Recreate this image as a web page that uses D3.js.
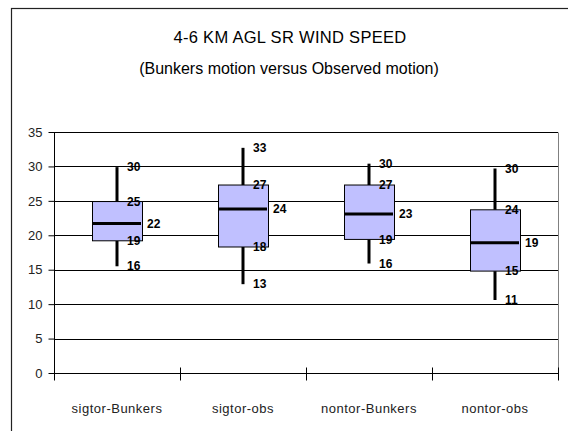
<!DOCTYPE html>
<html>
<head>
<meta charset="utf-8">
<script src="https://cdn.jsdelivr.net/npm/d3@7"></script>
<style>
  html, body { margin: 0; padding: 0; background: #fff; }
  svg { display: block; }
  text { font-family: "Liberation Sans", Arial, sans-serif; }
</style>
</head>
<body>
<svg id="chart" width="568" height="431"></svg>
<script>
// ---- data ----
const categories = ["sigtor-Bunkers", "sigtor-obs", "nontor-Bunkers", "nontor-obs"];
const maxValues    = [29.9, 32.7, 30.4, 29.7];
const q3Values     = [24.9, 27.3, 27.3, 23.7];
const medianValues = [21.7, 23.8, 23.1, 18.9];
const q1Values     = [19.2, 18.3, 19.4, 14.8];
const minValues    = [15.5, 12.9, 15.9, 10.6];
const yTicks = [0, 5, 10, 15, 20, 25, 30, 35];
const titleLines = ["4-6 KM AGL SR WIND SPEED", "(Bunkers motion versus Observed motion)"];

const svg = d3.select("#chart");

// outer chart frame (extends past the picture on right and bottom)
svg.append("rect")
  .attr("x", 11.5).attr("y", 8.5)
  .attr("width", 600).attr("height", 500)
  .attr("fill", "#fff").attr("stroke", "#222").attr("stroke-width", 1.2);

// titles
svg.append("text").attr("x", 290).attr("y", 43)
  .attr("text-anchor", "middle").attr("font-size", 16.5).attr("letter-spacing", 0.3).attr("fill", "#000")
  .text(titleLines[0]);
svg.append("text").attr("x", 289).attr("y", 74)
  .attr("text-anchor", "middle").attr("font-size", 16).attr("fill", "#000")
  .text(titleLines[1]);

// scales
const x = d3.scaleBand().domain(categories).range([54, 558]).paddingInner(0).paddingOuter(0);
const y = d3.scaleLinear().domain([0, 35]).range([373, 132]);

// gridlines
svg.append("g").selectAll("line")
  .data(yTicks.filter(d => d > 0))
  .join("line")
  .attr("x1", 54).attr("x2", 558)
  .attr("y1", d => Math.round(y(d)) + 0.5).attr("y2", d => Math.round(y(d)) + 0.5)
  .attr("stroke", "#000").attr("stroke-width", 1);

// plot area right border
svg.append("line")
  .attr("x1", 558.5).attr("x2", 558.5)
  .attr("y1", Math.round(y(35)) + 0.5).attr("y2", Math.round(y(0)) + 0.5)
  .attr("stroke", "#808080");

// y axis
const yAxis = d3.axisLeft(y).tickValues(yTicks).tickSize(6).tickPadding(6);
const gy = svg.append("g").attr("transform", "translate(54.5,0)").call(yAxis);
gy.select(".domain").attr("stroke", "#000").attr("d", `M0,${y(35)}V${y(0)}`);
gy.selectAll(".tick line").attr("stroke", "#000");
gy.selectAll(".tick text").attr("font-size", 13).attr("fill", "#222")
  .attr("font-family", "'Liberation Sans', Arial, sans-serif");

// x axis with ticks at category boundaries
const xAxisY = Math.round(y(0)) + 0.5;
svg.append("line").attr("x1", 54).attr("x2", 559).attr("y1", xAxisY).attr("y2", xAxisY)
  .attr("stroke", "#000");
const boundaries = categories.map(c => x(c)).concat([x(categories[categories.length - 1]) + x.bandwidth()]);
svg.append("g").selectAll("line").data(boundaries).join("line")
  .attr("x1", d => Math.round(d) + 0.5).attr("x2", d => Math.round(d) + 0.5)
  .attr("y1", xAxisY - 6).attr("y2", xAxisY + 7)
  .attr("stroke", "#000");
svg.append("g").selectAll("text").data(categories).join("text")
  .attr("x", d => x(d) + x.bandwidth() / 2)
  .attr("y", 413)
  .attr("text-anchor", "middle").attr("font-size", 13).attr("letter-spacing", 0.5).attr("fill", "#222")
  .text(d => d);

// boxes
const boxW = 50;
const g = svg.append("g");
categories.forEach((c, i) => {
  const cx = x(c) + x.bandwidth() / 2;
  // whiskers
  g.append("line").attr("x1", cx).attr("x2", cx)
    .attr("y1", y(maxValues[i])).attr("y2", y(q3Values[i]))
    .attr("stroke", "#000").attr("stroke-width", 3);
  g.append("line").attr("x1", cx).attr("x2", cx)
    .attr("y1", y(q1Values[i])).attr("y2", y(minValues[i]))
    .attr("stroke", "#000").attr("stroke-width", 3);
  // box
  g.append("rect")
    .attr("x", Math.round(cx - boxW / 2) + 0.5).attr("y", y(q3Values[i]))
    .attr("width", boxW).attr("height", y(q1Values[i]) - y(q3Values[i]))
    .attr("fill", "#c0c0ff").attr("stroke", "#000").attr("stroke-width", 1);
  // median
  g.append("line").attr("x1", cx - boxW / 2 + 1).attr("x2", cx + boxW / 2 - 1)
    .attr("y1", y(medianValues[i])).attr("y2", y(medianValues[i]))
    .attr("stroke", "#000").attr("stroke-width", 3);
  // labels
  const lab = (v, dx) => g.append("text")
    .attr("x", cx + dx).attr("y", y(v))
    .attr("dy", "0.35em")
    .attr("font-size", 12).attr("font-weight", "bold").attr("fill", "#000")
    .text(Math.round(v));
  lab(maxValues[i], 10);
  lab(q3Values[i], 10);
  lab(q1Values[i], 10);
  lab(minValues[i], 10);
  lab(medianValues[i], 30);
});
</script>
</body>
</html>
